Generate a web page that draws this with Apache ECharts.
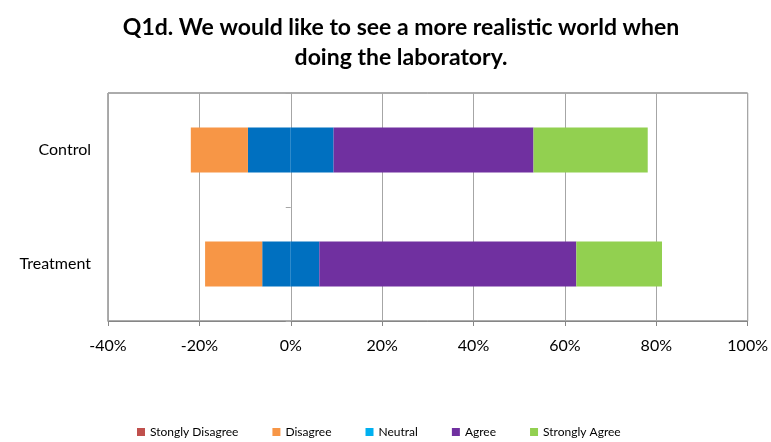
<!DOCTYPE html>
<html>
<head>
<meta charset="utf-8">
<script src="https://cdn.jsdelivr.net/npm/echarts@6/dist/echarts.min.js"></script>
<style>
  html, body { margin: 0; padding: 0; background: #fff; }
  #chart { width: 771px; height: 442px; }
</style>
</head>
<body>
<div id="chart"></div>
<script>
// Survey groups and response shares (percent of respondents)
const categories = ['Control', 'Treatment'];
const stronglyDisagree = [0, 0];
const disagree = [12.5, 12.5];
const neutral = [18.75, 12.5];
const agree = [43.75, 56.25];
const stronglyAgree = [25, 18.75];

const xTicks = { min: -40, max: 100, step: 20 };

const FONT = 'Lato, "Open Sans", sans-serif';

// Neutral is split around zero; disagreement extends to the left
const neg = arr => arr.map(v => -v);
const half = arr => arr.map(v => v / 2);

const barBase = { type: 'bar', stack: 'total', barWidth: 45 };

const chart = echarts.init(document.getElementById('chart'), null, { renderer: 'canvas' });

chart.setOption({
  animation: false,
  backgroundColor: '#ffffff',
  title: {
    text: 'Q1d. We would like to see a more realistic world when\ndoing the laboratory.',
    left: 396,
    textAlign: 'center',
    top: 8,
    textStyle: { fontFamily: FONT, fontWeight: 'bold', fontSize: 23, lineHeight: 30, color: '#000' }
  },
  legend: {
    left: 132,
    top: 421,
    itemWidth: 8,
    itemHeight: 8,
    itemGap: 34,
    icon: 'rect',
    textStyle: { fontFamily: FONT, fontSize: 12, color: '#000' },
    data: [
      { name: 'Stongly Disagree', itemStyle: { color: '#C0504D' } },
      { name: 'Disagree', itemStyle: { color: '#F79646' } },
      { name: 'Neutral', itemStyle: { color: '#00B0F0' } },
      { name: 'Agree', itemStyle: { color: '#7030A0' } },
      { name: 'Strongly Agree', itemStyle: { color: '#92D050' } }
    ]
  },
  grid: {
    left: 108, right: 21, top: 93, bottom: 121,
    show: true, borderColor: '#595959', borderWidth: 1, backgroundColor: 'transparent'
  },
  xAxis: {
    type: 'value',
    min: xTicks.min, max: xTicks.max, interval: xTicks.step,
    axisLine: { show: true, onZero: false, lineStyle: { color: '#868686' } },
    axisTick: { show: true, length: 5, lineStyle: { color: '#868686' } },
    axisLabel: { formatter: '{value}%', fontFamily: FONT, fontSize: 16, color: '#000', margin: 17 },
    splitLine: { show: true, lineStyle: { color: '#A6A6A6', width: 1 } }
  },
  yAxis: [
    {
      type: 'category',
      data: categories,
      inverse: true,
      position: 'left',
      axisLine: { show: false, onZero: false },
      axisTick: { show: false },
      axisLabel: { fontFamily: FONT, fontSize: 16, color: '#000', margin: 17 }
    },
    {
      // axis line through zero with its small category ticks
      type: 'category',
      data: categories,
      inverse: true,
      position: 'left',
      axisLine: { show: true, onZero: true, lineStyle: { color: '#A6A6A6' } },
      axisTick: { show: true, length: 5, lineStyle: { color: '#A6A6A6' } },
      axisLabel: { show: false }
    }
  ],
  series: [
    Object.assign({}, barBase, { name: 'Neutral', data: neg(half(neutral)), itemStyle: { color: '#0070C0' } }),
    Object.assign({}, barBase, { name: 'Neutral', data: half(neutral), itemStyle: { color: '#0070C0' } }),
    Object.assign({}, barBase, { name: 'Disagree', data: neg(disagree), itemStyle: { color: '#F79646' } }),
    Object.assign({}, barBase, { name: 'Agree', data: agree, itemStyle: { color: '#7030A0' } }),
    Object.assign({}, barBase, { name: 'Stongly Disagree', data: neg(stronglyDisagree), itemStyle: { color: '#C0504D' } }),
    Object.assign({}, barBase, { name: 'Strongly Agree', data: stronglyAgree, itemStyle: { color: '#92D050' } })
  ]
});
</script>
</body>
</html>
